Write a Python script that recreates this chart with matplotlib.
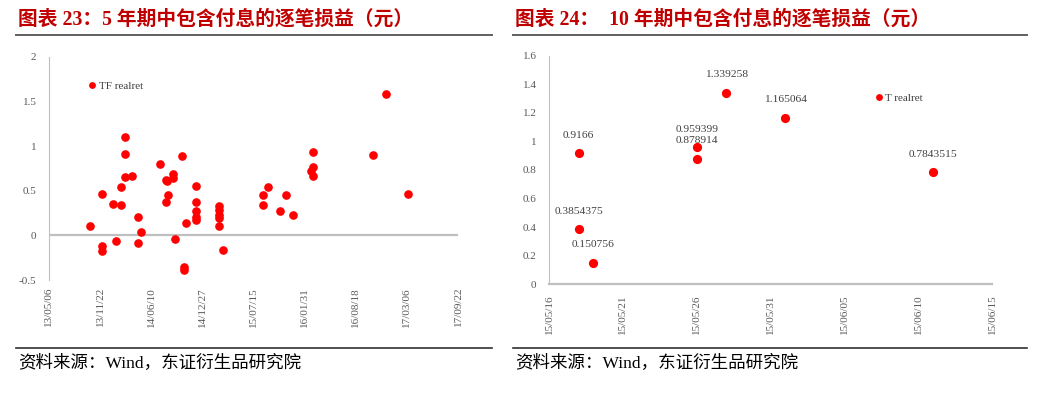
import matplotlib
matplotlib.use('Agg')
import matplotlib.pyplot as plt
import matplotlib.dates as mdates
import pandas as pd
from matplotlib.lines import Line2D

# --- dados ---
tf_dates = ['2013-10-14', '2013-12-01', '2013-11-29', '2013-12-01', '2014-01-11',
            '2014-01-24', '2014-02-12', '2014-02-12', '2014-02-27', '2014-02-27',
            '2014-02-27', '2014-03-27', '2014-04-19', '2014-04-29', '2014-04-19',
            '2014-07-15', '2014-08-08', '2014-08-10', '2014-08-13', '2014-08-08',
            '2014-09-04', '2014-09-04', '2014-09-09', '2014-10-09', '2014-10-24',
            '2014-10-16', '2014-10-16', '2014-12-04', '2014-12-04', '2014-12-04',
            '2014-12-04', '2014-12-04', '2015-03-03', '2015-03-03', '2015-03-03',
            '2015-03-03', '2015-03-03', '2015-03-18', '2015-08-20', '2015-08-20',
            '2015-09-10', '2015-10-28', '2015-11-20', '2015-12-18', '2016-03-05',
            '2016-03-03', '2016-02-23', '2016-03-05', '2016-10-26', '2016-12-13',
            '2017-03-11']
tf_values = [0.105, 0.467, -0.12, -0.18, 0.347,
             -0.063, 0.336, 0.545, 1.098, 0.915,
             0.657, 0.668, 0.209, 0.038, -0.09,
             0.795, 0.624, 0.605, 0.456, 0.37,
             0.683, 0.642, -0.04, 0.889, 0.139,
             -0.35, -0.384, 0.553, 0.37, 0.273,
             0.202, 0.172, 0.333, 0.28, 0.23,
             0.20, 0.10, -0.164, 0.452, 0.34,
             0.545, 0.269, 0.448, 0.228, 0.937,
             0.769, 0.717, 0.661, 0.907, 1.587,
             0.463]

t_dates = ['2015-05-18', '2015-05-18', '2015-05-19', '2015-05-26', '2015-05-26',
           '2015-05-28', '2015-06-01', '2015-06-11']
t_values = [0.9166, 0.3854375, 0.150756, 0.959399, 0.878914,
            1.339258, 1.165064, 0.7843515]
t_labels = ['0.9166', '0.3854375', '0.150756', '0.959399', '0.878914',
            '1.339258', '1.165064', '0.7843515']

titles = ['图表 23：5 年期中包含付息的逐笔损益（元）',
          '图表 24：  10 年期中包含付息的逐笔损益（元）']
source = '资料来源：Wind，东证衍生品研究院'

RED = '#FF0000'
TITLE_RED = '#C00000'
AXC = '#BFBFBF'
TXT = '#595959'
SERIF = ['Liberation Serif', 'DejaVu Serif']
CJK = ['Liberation Serif', 'Noto Sans CJK SC']

fig = plt.figure(figsize=(10.51, 3.95), dpi=100)

def style(ax):
    for s in ['top', 'right']:
        ax.spines[s].set_visible(False)
    ax.spines['left'].set_color(AXC)
    ax.spines['bottom'].set_color(AXC)
    ax.tick_params(length=0, colors=TXT, labelsize=8)
    ax.tick_params(axis='y', pad=9)
    for lb in ax.get_xticklabels() + ax.get_yticklabels():
        lb.set_fontfamily(SERIF)

# --- gráfico esquerdo (TF) ---
ax1 = fig.add_axes([0.0466, 0.2911, 0.3892, 0.5646])
ax1.plot(pd.to_datetime(tf_dates), tf_values, 'o', color=RED, markersize=5.2,
         label='TF realret')
ax1.axhline(0, color=AXC, lw=1.6, zorder=0)
ax1.set_ylim(-0.5, 2)
ax1.set_yticks([-0.5, 0, 0.5, 1, 1.5, 2])
ax1.set_yticklabels(['-0.5', '0', '0.5', '1', '1.5', '2'])
t1 = pd.date_range('2013-05-06', periods=9, freq='200D')
ax1.set_xlim(t1[0], t1[-1])
ax1.set_xticks(t1)
ax1.xaxis.set_major_formatter(mdates.DateFormatter('%y/%m/%d'))
ax1.tick_params(axis='x', rotation=90, pad=5)
style(ax1)
ax1.spines['bottom'].set_visible(False)
ax1.legend(loc='center left', bbox_to_anchor=(0.098, 0.87), frameon=False,
           handlelength=0.6, handletextpad=0.25, borderpad=0, borderaxespad=0,
           markerscale=0.75, prop={'family': SERIF, 'size': 8},
           labelcolor='#404040')

# --- gráfico direito (T) ---
ax2 = fig.add_axes([0.5224, 0.2803, 0.4215, 0.5787])
td = pd.to_datetime(t_dates)
ax2.plot(td, t_values, 'o', color=RED, markersize=5.6, label='T realret')
for d, v, s in zip(td, t_values, t_labels):
    ax2.annotate(s, (d, v), xytext=(0, 13), textcoords='offset points',
                 ha='center', va='center', fontsize=8.2, family=SERIF,
                 color='#404040')
ax2.set_ylim(0, 1.6)
ax2.set_yticks([0, 0.2, 0.4, 0.6, 0.8, 1, 1.2, 1.4, 1.6])
ax2.set_yticklabels(['0', '0.2', '0.4', '0.6', '0.8', '1', '1.2', '1.4', '1.6'])
t2 = pd.date_range('2015-05-16', periods=7, freq='5D')
ax2.set_xlim(t2[0], t2[-1])
ax2.set_xticks(t2)
ax2.xaxis.set_major_formatter(mdates.DateFormatter('%y/%m/%d'))
ax2.tick_params(axis='x', rotation=90, pad=7)
style(ax2)
ax2.spines['bottom'].set_linewidth(1.6)
ax2.legend(loc='center left', bbox_to_anchor=(0.738, 0.816), frameon=False,
           handlelength=0.6, handletextpad=0.25, borderpad=0, borderaxespad=0,
           markerscale=0.7, prop={'family': SERIF, 'size': 8},
           labelcolor='#404040')

# --- títulos, linhas e fonte ---
for x0, x1, tt in [(16, 492, titles[0]), (513, 1027, titles[1])]:
    fig.text((x0 + 2) / 1051, 1 - 20 / 395, tt, color=TITLE_RED, fontsize=14.2,
             fontweight='bold', family=CJK, ha='left', va='center')
    fig.add_artist(Line2D([x0 / 1051, x1 / 1051], [1 - 34.5 / 395] * 2,
                          color='#606060', lw=1.4))
    fig.add_artist(Line2D([x0 / 1051, x1 / 1051], [1 - 348 / 395] * 2,
                          color='#303030', lw=1.2))
    fig.text((x0 + 2) / 1051, 1 - 364 / 395, source, color='black',
             fontsize=12.6, family=CJK, ha='left', va='center')

plt.savefig('out.png', dpi=100)
